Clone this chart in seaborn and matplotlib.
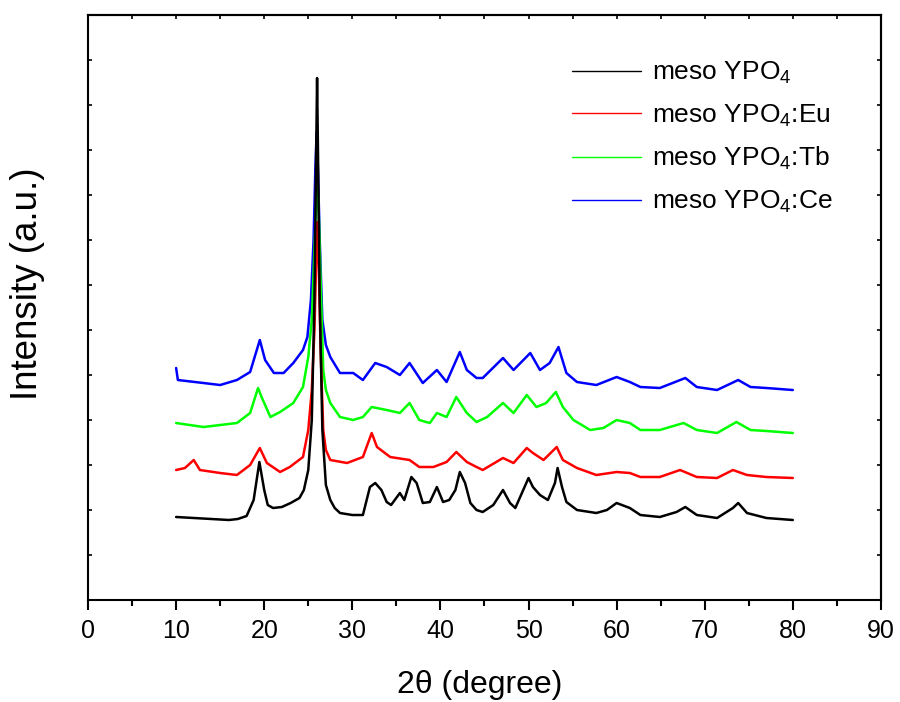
import numpy as np
import pandas as pd
import seaborn as sns
import matplotlib
matplotlib.use("Agg")
import matplotlib.pyplot as plt
from matplotlib.ticker import MultipleLocator

# XRD patterns, stacked (intensity in a.u., offsets already included)
tt_black = [10.0, 12.0, 14.0, 16.0, 17.0, 18.0, 18.8, 19.45, 20.0, 20.4, 21.0, 22.0, 23.0,
            24.0, 24.5, 25.0, 25.4, 25.7, 25.9, 26.0, 26.1, 26.3, 26.6, 27.0, 27.5, 28.0,
            28.6, 30.0, 31.2, 32.0, 32.6, 33.3, 33.9, 34.4, 35.4, 35.9, 36.7, 37.3, 38.0,
            38.8, 39.6, 40.3, 41.0, 41.7, 42.2, 42.8, 43.4, 44.1, 44.8, 46.0, 47.1, 47.9,
            48.5, 49.4, 50.0, 50.5, 51.3, 52.2, 53.0, 53.3, 53.8, 54.3, 55.5, 57.7, 58.9,
            60.0, 61.5, 62.7, 64.9, 66.8, 67.8, 69.1, 71.4, 73.2, 73.8, 74.8, 77.0, 80.0]
i_black = [83, 82, 81, 80, 81, 84, 100, 138, 110, 95, 92, 93, 97,
           102, 110, 130, 180, 300, 450, 522, 450, 300, 170, 115, 100, 92,
           87, 85, 85, 113, 117, 110, 98, 95, 107, 100, 123, 117, 97,
           98, 113, 98, 100, 110, 128, 117, 97, 90, 88, 95, 110, 97,
           92, 110, 122, 113, 105, 100, 117, 132, 113, 98, 90, 87, 90,
           97, 92, 85, 83, 88, 93, 85, 82, 92, 97, 87, 82, 80]

tt_eu = [10.0, 11.0, 12.0, 12.7, 15.0, 16.9, 18.4, 19.5, 20.3, 21.8, 22.9, 24.4, 25.0,
         25.4, 25.7, 25.9, 26.05, 26.2, 26.4, 26.7, 27.0, 27.5, 29.4, 31.2, 32.2, 32.8,
         34.3, 36.5, 37.6, 39.2, 40.7, 41.8, 43.0, 44.1, 44.8, 47.1, 48.3, 49.8, 50.5,
         51.7, 53.2, 53.9, 55.5, 57.7, 60.0, 61.5, 62.7, 64.9, 67.2, 69.1, 71.4, 73.2,
         74.8, 77.0, 80.0]
i_eu = [130, 132, 140, 130, 127, 125, 135, 152, 137, 128, 133, 143, 170,
        210, 270, 340, 378, 330, 250, 170, 150, 140, 137, 143, 167, 153,
        143, 140, 133, 133, 138, 148, 138, 133, 130, 142, 137, 152, 147,
        140, 153, 140, 132, 125, 128, 127, 123, 123, 130, 123, 122, 130,
        125, 123, 122]

tt_tb = [10.0, 13.1, 15.0, 16.9, 18.4, 19.3, 19.7, 20.7, 21.8, 23.3, 24.4, 25.0, 25.4,
         25.7, 25.9, 26.0, 26.15, 26.4, 26.7, 27.0, 27.5, 28.6, 30.1, 31.2, 32.2, 33.9,
         35.4, 36.5, 37.6, 38.8, 39.6, 40.7, 41.8, 43.0, 44.1, 45.3, 47.1, 48.3, 49.8,
         50.9, 52.0, 53.1, 53.9, 55.1, 57.0, 58.5, 60.0, 61.5, 62.7, 64.9, 67.6, 69.1,
         71.4, 73.6, 75.2, 77.0, 80.0]
i_tb = [177, 173, 175, 177, 187, 212, 203, 183, 188, 197, 213, 243, 280,
        350, 400, 420, 400, 320, 230, 210, 197, 183, 180, 183, 193, 190,
        187, 197, 180, 177, 187, 183, 203, 187, 178, 183, 197, 187, 205,
        193, 197, 208, 193, 180, 170, 172, 180, 177, 170, 170, 177, 170,
        167, 178, 170, 169, 167]

tt_ce = [10.0, 10.2, 13.1, 15.0, 16.9, 18.4, 19.5, 20.1, 21.1, 22.2, 23.3, 24.4, 24.9,
         25.3, 25.6, 25.8, 25.95, 26.1, 26.3, 26.6, 27.0, 27.5, 28.6, 30.1, 31.2, 32.6,
         33.9, 35.4, 36.5, 38.0, 39.6, 40.7, 42.2, 43.0, 44.1, 44.8, 47.1, 48.3, 50.2,
         51.3, 52.4, 53.4, 54.3, 55.5, 57.7, 60.0, 61.5, 62.7, 64.9, 67.8, 69.1, 71.4,
         73.8, 75.2, 77.0, 80.0]
i_ce = [232, 220, 217, 215, 220, 228, 260, 240, 227, 227, 237, 250, 263,
        300, 360, 430, 468, 430, 360, 280, 255, 243, 227, 227, 220, 237,
        233, 225, 237, 217, 230, 218, 248, 230, 222, 222, 242, 230, 247,
        230, 237, 253, 227, 218, 215, 223, 218, 213, 212, 222, 213, 210,
        220, 213, 212, 210]

labels = ["meso YPO$_4$", "meso YPO$_4$:Eu", "meso YPO$_4$:Tb", "meso YPO$_4$:Ce"]
colors = ["#000000", "#ff0000", "#00ff00", "#0000ff"]

frames = []
for lab, tt, ii in zip(labels, [tt_black, tt_eu, tt_tb, tt_ce], [i_black, i_eu, i_tb, i_ce]):
    frames.append(pd.DataFrame({"two_theta": tt, "intensity": ii, "sample": lab}))
df = pd.concat(frames, ignore_index=True)

sns.set_style("ticks", {"axes.edgecolor": "black", "text.color": "black",
                        "xtick.color": "black", "ytick.color": "black",
                        "axes.labelcolor": "black"})
plt.rcParams["font.family"] = ["Liberation Sans", "DejaVu Sans"]
plt.rcParams["mathtext.default"] = "regular"

fig = plt.figure(figsize=(9, 7.02), dpi=100)
ax = fig.add_axes([0.0978, 0.1453, 0.881, 0.8333])

# draw blue first, black last
for lab, col in reversed(list(zip(labels, colors))):
    sns.lineplot(data=df[df["sample"] == lab], x="two_theta", y="intensity",
                 color=col, lw=1.8, ax=ax, label=lab, sort=False)

ax.set_xlim(0, 90)
ax.set_ylim(0, 585)
ax.set_xticks(np.arange(0, 91, 10))
ax.xaxis.set_minor_locator(MultipleLocator(5))
ax.set_yticks(np.arange(0, 586, 45))
ax.set_yticklabels([])
ax.tick_params(axis="x", which="major", direction="out", length=7, width=1.5,
               labelsize=18, pad=7)
ax.tick_params(axis="x", which="minor", direction="out", length=4, width=1.5)
ax.tick_params(axis="y", which="major", direction="in", length=3, width=1.2)
for sp in ax.spines.values():
    sp.set_linewidth(1.5)
    sp.set_visible(True)

top = ax.secondary_xaxis("top")
top.set_xticks(np.arange(0, 91, 5))
top.tick_params(direction="in", length=3, width=1.2, labeltop=False)
top.spines["top"].set_linewidth(1.5)
right = ax.secondary_yaxis("right")
right.set_yticks(np.arange(0, 586, 45))
right.tick_params(direction="in", length=3, width=1.2, labelright=False)
right.spines["right"].set_linewidth(1.5)

ax.set_xlabel("2θ (degree)", fontsize=23)
ax.set_ylabel("Intensity (a.u.)", fontsize=26.5)
ax.xaxis.set_label_coords(0.494, -0.12)
ax.yaxis.set_label_coords(-0.054, 0.54)

handles, labs = ax.get_legend_handles_labels()
order = [labs.index(l) for l in labels]
leg = ax.legend([handles[i] for i in order], [labs[i] for i in order],
                loc="upper left", bbox_to_anchor=(0.611, 0.923), frameon=False,
                fontsize=19, handlelength=2.6, handletextpad=0.4,
                labelspacing=0.62, borderpad=0, borderaxespad=0)
for h in leg.get_lines():
    h.set_linewidth(1.0)

fig.savefig("out.png", dpi=100)
